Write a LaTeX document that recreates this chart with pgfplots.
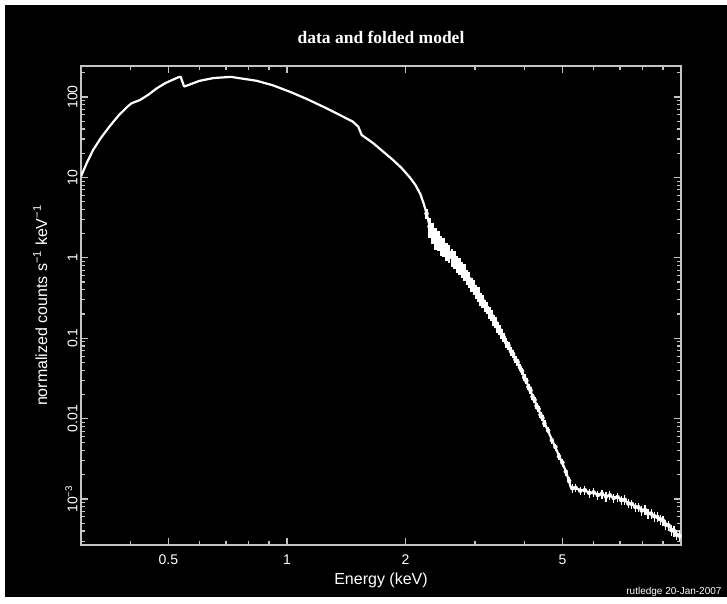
\documentclass[border=0pt]{standalone}
\usepackage{fontspec}
\setmainfont{Liberation Sans}
\newfontfamily\titlefont{Liberation Serif}
\usepackage{pgfplots}
\usepackage{pgfplotstable}
\pgfplotsset{compat=1.18}
\definecolor{frame}{HTML}{C4C4C4}

\pgfplotstableread{
E C
0.300 10.3
0.311 15.5
0.322 21.9
0.337 31
0.354 42.7
0.375 60
0.395 77
0.403 83.5
0.412 87
0.424 92
0.445 107
0.467 128
0.490 148
0.510 162
0.530 176
0.537 179
0.548 135
0.560 140
0.600 159
0.650 172
0.720 178
0.760 171
0.838 159
0.920 140
1.018 116
1.120 95
1.236 75.7
1.350 61
1.470 49.3
1.517 42.7
1.547 33.7
1.656 26.6
1.860 16.4
1.950 13.2
2.050 10.0
2.120 8.0
2.180 6.2
2.220 4.8
2.260 3.6
2.300 2.5
2.340 2.05
2.420 1.66
2.500 1.371
2.600 1.09
2.700 0.873
2.800 0.705
2.900 0.5355
3.000 0.41
3.100 0.3175
3.200 0.248
3.280 0.204
3.400 0.148
3.500 0.1151
3.600 0.0898
3.700 0.0705
3.800 0.0557
3.900 0.0443
4.000 0.0333
4.100 0.0252
4.200 0.0192
4.300 0.0147
4.390 0.01165
4.500 0.00887
4.600 0.00697
4.700 0.0055
4.800 0.00436
4.900 0.00348
5.000 0.00279
5.100 0.00224
5.200 0.00165
5.250 0.0014
5.400 0.00135
5.700 0.00126
6.000 0.00118
6.500 0.0011
7.000 0.00102
7.500 0.000858
8.000 0.00073
8.500 0.00063
8.850 0.000575
9.300 0.00046
9.840 0.000356
10.00 0.00033
}\modeltable

% data, 2.26-4.5 keV (dense band)
\pgfplotstableread{
E C dE rel
2.26 3.55 0.02 0.15
2.30 2.45 0.02 0.28
2.34 2.10 0.02 0.30
2.38 1.80 0.02 0.30
2.42 1.70 0.02 0.28
2.46 1.48 0.02 0.28
2.50 1.40 0.02 0.27
2.54 1.22 0.02 0.26
2.58 1.16 0.02 0.26
2.62 1.02 0.02 0.25
2.66 0.97 0.02 0.25
2.70 0.86 0.02 0.24
2.74 0.81 0.02 0.24
2.78 0.72 0.02 0.23
2.82 0.675 0.02 0.23
2.86 0.585 0.02 0.22
2.90 0.545 0.02 0.22
2.94 0.47 0.02 0.21
2.98 0.44 0.02 0.21
3.02 0.38 0.02 0.20
3.06 0.357 0.02 0.20
3.10 0.31 0.02 0.19
3.14 0.292 0.02 0.19
3.18 0.255 0.02 0.18
3.22 0.240 0.02 0.17
3.26 0.209 0.02 0.17
3.30 0.196 0.02 0.16
3.34 0.170 0.02 0.16
3.38 0.159 0.02 0.15
3.42 0.138 0.02 0.15
3.46 0.129 0.02 0.14
3.50 0.113 0.02 0.14
3.55 0.103 0.025 0.13
3.60 0.088 0.025 0.13
3.65 0.081 0.025 0.12
3.70 0.069 0.025 0.12
3.75 0.0635 0.025 0.11
3.80 0.0545 0.025 0.11
3.85 0.0505 0.025 0.10
3.90 0.0435 0.025 0.10
3.95 0.0390 0.025 0.10
4.00 0.0327 0.025 0.10
4.05 0.0295 0.025 0.09
4.10 0.0247 0.025 0.09
4.15 0.0224 0.025 0.09
4.20 0.0188 0.025 0.09
4.25 0.0171 0.025 0.09
4.30 0.0144 0.025 0.09
4.35 0.0132 0.025 0.09
4.40 0.0112 0.025 0.09
4.45 0.0102 0.025 0.09
4.50 0.0087 0.025 0.09
}\banddata

% data, 4.6-10 keV (separate crosses)
\pgfplotstableread{
E C dE rel
4.60 0.0071 0.05 0.10
4.70 0.0054 0.05 0.10
4.80 0.00445 0.05 0.10
4.90 0.0034 0.05 0.10
5.00 0.00284 0.05 0.11
5.10 0.00219 0.05 0.11
5.20 0.00168 0.05 0.12
5.30 0.00136 0.05 0.12
5.40 0.00138 0.05 0.12
5.55 0.00127 0.075 0.12
5.70 0.00129 0.075 0.12
5.85 0.00119 0.075 0.13
6.00 0.00121 0.075 0.13
6.15 0.00112 0.075 0.13
6.30 0.00116 0.075 0.13
6.45 0.00107 0.075 0.13
6.60 0.00111 0.075 0.13
6.75 0.00103 0.075 0.13
6.90 0.00106 0.075 0.13
7.05 0.00097 0.075 0.13
7.20 0.00098 0.075 0.13
7.35 0.00088 0.075 0.13
7.50 0.00087 0.075 0.13
7.65 0.00080 0.075 0.13
7.80 0.00079 0.075 0.13
7.95 0.00072 0.075 0.14
8.10 0.00073 0.075 0.14
8.25 0.00066 0.075 0.14
8.40 0.00066 0.075 0.14
8.55 0.00061 0.075 0.14
8.70 0.00060 0.075 0.14
8.85 0.00056 0.075 0.14
9.00 0.00054 0.075 0.14
9.15 0.00048 0.075 0.15
9.30 0.00047 0.075 0.15
9.45 0.00041 0.075 0.15
9.60 0.00040 0.075 0.15
9.75 0.00036 0.075 0.15
9.90 0.00035 0.075 0.15
}\taildata

\begin{document}
\begin{tikzpicture}[x=1pt,y=1pt]
\fill[white] (0,0) rectangle (727,603);
\fill[black] (5,6) rectangle (727,598);
\useasboundingbox (0,0) rectangle (727,603);
\node[text=white, font=\titlefont\bfseries\fontsize{17.5}{20}\selectfont] at (381,566) {data and folded model};
\node[text=white, anchor=east, font=\fontsize{10}{11}\selectfont] at (725,11) {rutledge 20-Jan-2007};
\begin{axis}[
  at={(81pt,58pt)}, anchor=south west,
  scale only axis, width=600pt, height=479pt,
  xmode=log, ymode=log,
  xmin=0.3, xmax=10, ymin=2.68e-4, ymax=243,
  axis line style={draw=frame, line width=1.4pt},
  tick style={draw=frame, line width=1.1pt},
  tick align=inside, xtick pos=both, ytick pos=both,
  major tick length=7pt, minor tick length=4pt,
  xtick={0.5,1,2,5}, xticklabels={0.5,1,2,5},
  minor xtick={0.4,0.6,0.7,0.8,0.9,3,4,6,7,8,9},
  ytick={0.001,0.01,0.1,1,10,100},
  yticklabels={10\textsuperscript{−3},0.01,0.1,1,10,100},
  minor ytick={3e-4,4e-4,5e-4,6e-4,7e-4,8e-4,9e-4,
    2e-3,3e-3,4e-3,5e-3,6e-3,7e-3,8e-3,9e-3,
    0.02,0.03,0.04,0.05,0.06,0.07,0.08,0.09,
    0.2,0.3,0.4,0.5,0.6,0.7,0.8,0.9,
    2,3,4,5,6,7,8,9,20,30,40,50,60,70,80,90,200},
  every tick label/.append style={text=white, font=\fontsize{14}{16}\selectfont},
  xticklabel style={yshift=-6pt},
  yticklabel style={rotate=90, anchor=south},
  xlabel={Energy (keV)},
  ylabel={normalized counts s\textsuperscript{−1} keV\textsuperscript{−1}},
  label style={text=white, font=\fontsize{16}{18}\selectfont},
  xlabel style={at={(axis description cs:0.5,-0.073)}, anchor=center},
  ylabel style={at={(axis description cs:-0.068,0.5)}, anchor=center},
]
\addplot[white, line width=2.2pt, line join=round] table[x=E, y=C] {\modeltable};
\addplot[white, only marks, mark=none,
  error bars/.cd, x dir=both, x explicit, y dir=both, y explicit relative,
  error mark=none, error bar style={white, line width=2.6pt}]
  table[x=E, y=C, x error=dE, y error=rel] {\banddata};
\addplot[white, only marks, mark=none,
  error bars/.cd, x dir=both, x explicit, y dir=both, y explicit relative,
  error mark=none, error bar style={white, line width=1.2pt}]
  table[x=E, y=C, x error=dE, y error=rel] {\taildata};
\end{axis}
\end{tikzpicture}
\end{document}
